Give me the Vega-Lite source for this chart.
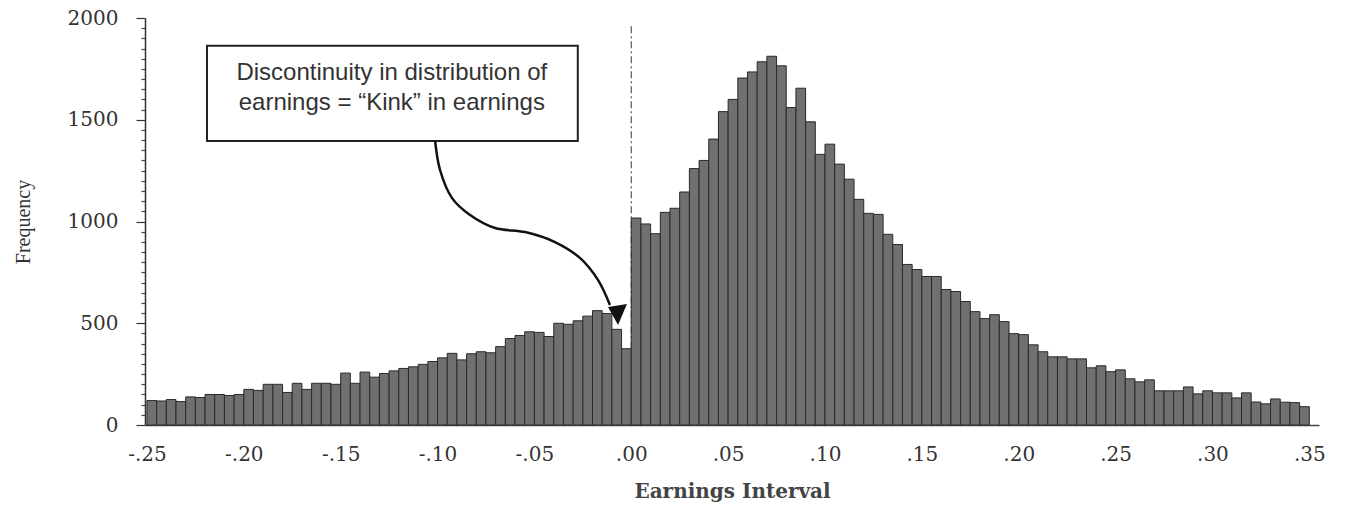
{
  "$schema": "https://vega.github.io/schema/vega-lite/v6.json",
  "width": 1174,
  "height": 407,
  "autosize": "none",
  "padding": {"left": 145, "top": 18, "right": 26, "bottom": 81},
  "background": "white",
  "config": {"view": {"stroke": null}},
  "resolve": {"axis": {"y": "independent"}},
  "datasets": {
    "hist": [
      {"a":-0.25,"b":-0.245,"n":120},{"a":-0.245,"b":-0.24,"n":118},{"a":-0.24,"b":-0.235,"n":125},{"a":-0.235,"b":-0.23,"n":115},
      {"a":-0.23,"b":-0.225,"n":138},{"a":-0.225,"b":-0.22,"n":135},{"a":-0.22,"b":-0.215,"n":150},{"a":-0.215,"b":-0.21,"n":150},
      {"a":-0.21,"b":-0.205,"n":145},{"a":-0.205,"b":-0.2,"n":150},{"a":-0.2,"b":-0.195,"n":175},{"a":-0.195,"b":-0.19,"n":170},
      {"a":-0.19,"b":-0.185,"n":200},{"a":-0.185,"b":-0.18,"n":200},{"a":-0.18,"b":-0.175,"n":160},{"a":-0.175,"b":-0.17,"n":205},
      {"a":-0.17,"b":-0.165,"n":175},{"a":-0.165,"b":-0.16,"n":205},{"a":-0.16,"b":-0.155,"n":205},{"a":-0.155,"b":-0.15,"n":200},
      {"a":-0.15,"b":-0.145,"n":255},{"a":-0.145,"b":-0.14,"n":205},{"a":-0.14,"b":-0.135,"n":260},{"a":-0.135,"b":-0.13,"n":235},
      {"a":-0.13,"b":-0.125,"n":253},{"a":-0.125,"b":-0.12,"n":266},{"a":-0.12,"b":-0.115,"n":278},{"a":-0.115,"b":-0.11,"n":286},
      {"a":-0.11,"b":-0.105,"n":298},{"a":-0.105,"b":-0.1,"n":312},{"a":-0.1,"b":-0.095,"n":330},{"a":-0.095,"b":-0.09,"n":352},
      {"a":-0.09,"b":-0.085,"n":320},{"a":-0.085,"b":-0.08,"n":350},{"a":-0.08,"b":-0.075,"n":360},{"a":-0.075,"b":-0.07,"n":355},
      {"a":-0.07,"b":-0.065,"n":385},{"a":-0.065,"b":-0.06,"n":425},{"a":-0.06,"b":-0.055,"n":440},{"a":-0.055,"b":-0.05,"n":458},
      {"a":-0.05,"b":-0.045,"n":455},{"a":-0.045,"b":-0.04,"n":435},{"a":-0.04,"b":-0.035,"n":500},{"a":-0.035,"b":-0.03,"n":495},
      {"a":-0.03,"b":-0.025,"n":512},{"a":-0.025,"b":-0.02,"n":535},{"a":-0.02,"b":-0.015,"n":562},{"a":-0.015,"b":-0.01,"n":548},
      {"a":-0.01,"b":-0.005,"n":470},{"a":-0.005,"b":0,"n":375},{"a":0,"b":0.005,"n":1017},{"a":0.005,"b":0.01,"n":988},
      {"a":0.01,"b":0.015,"n":940},{"a":0.015,"b":0.02,"n":1045},{"a":0.02,"b":0.025,"n":1065},{"a":0.025,"b":0.03,"n":1145},
      {"a":0.03,"b":0.035,"n":1260},{"a":0.035,"b":0.04,"n":1300},{"a":0.04,"b":0.045,"n":1405},{"a":0.045,"b":0.05,"n":1540},
      {"a":0.05,"b":0.055,"n":1600},{"a":0.055,"b":0.06,"n":1705},{"a":0.06,"b":0.065,"n":1735},{"a":0.065,"b":0.07,"n":1785},
      {"a":0.07,"b":0.075,"n":1812},{"a":0.075,"b":0.08,"n":1765},{"a":0.08,"b":0.085,"n":1560},{"a":0.085,"b":0.09,"n":1655},
      {"a":0.09,"b":0.095,"n":1490},{"a":0.095,"b":0.1,"n":1330},{"a":0.1,"b":0.105,"n":1380},{"a":0.105,"b":0.11,"n":1282},
      {"a":0.11,"b":0.115,"n":1208},{"a":0.115,"b":0.12,"n":1109},{"a":0.12,"b":0.125,"n":1040},{"a":0.125,"b":0.13,"n":1035},
      {"a":0.13,"b":0.135,"n":937},{"a":0.135,"b":0.14,"n":887},{"a":0.14,"b":0.145,"n":789},{"a":0.145,"b":0.15,"n":764},
      {"a":0.15,"b":0.155,"n":730},{"a":0.155,"b":0.16,"n":730},{"a":0.16,"b":0.165,"n":666},{"a":0.165,"b":0.17,"n":656},
      {"a":0.17,"b":0.175,"n":607},{"a":0.175,"b":0.18,"n":557},{"a":0.18,"b":0.185,"n":523},{"a":0.185,"b":0.19,"n":542},
      {"a":0.19,"b":0.195,"n":508},{"a":0.195,"b":0.2,"n":449},{"a":0.2,"b":0.205,"n":444},{"a":0.205,"b":0.21,"n":394},
      {"a":0.21,"b":0.215,"n":360},{"a":0.215,"b":0.22,"n":335},{"a":0.22,"b":0.225,"n":335},{"a":0.225,"b":0.23,"n":325},
      {"a":0.23,"b":0.235,"n":325},{"a":0.235,"b":0.24,"n":281},{"a":0.24,"b":0.245,"n":291},{"a":0.245,"b":0.25,"n":262},
      {"a":0.25,"b":0.255,"n":271},{"a":0.255,"b":0.26,"n":227},{"a":0.26,"b":0.265,"n":212},{"a":0.265,"b":0.27,"n":222},
      {"a":0.27,"b":0.275,"n":168},{"a":0.275,"b":0.28,"n":168},{"a":0.28,"b":0.285,"n":168},{"a":0.285,"b":0.29,"n":187},
      {"a":0.29,"b":0.295,"n":153},{"a":0.295,"b":0.3,"n":168},{"a":0.3,"b":0.305,"n":158},{"a":0.305,"b":0.31,"n":158},
      {"a":0.31,"b":0.315,"n":133},{"a":0.315,"b":0.32,"n":158},{"a":0.32,"b":0.325,"n":113},{"a":0.325,"b":0.33,"n":104},
      {"a":0.33,"b":0.335,"n":128},{"a":0.335,"b":0.34,"n":112},{"a":0.34,"b":0.345,"n":110},{"a":0.345,"b":0.35,"n":90}
    ],
    "arrow": [
      {"x":-0.1013,"y":1400,"o":1},{"x":-0.0987,"y":1253,"o":2},{"x":-0.0925,"y":1115,"o":3},{"x":-0.0832,"y":1032,"o":4},
      {"x":-0.0703,"y":968,"o":5},{"x":-0.0548,"y":948,"o":6},{"x":-0.0394,"y":899,"o":7},{"x":-0.0265,"y":821,"o":8},
      {"x":-0.0172,"y":713,"o":9},{"x":-0.011,"y":590,"o":10}
    ]
  },
  "layer": [
    {
      "data": {"values": [{"x": 0, "y": 1960, "y2": 0}]},
      "mark": {"type": "rule", "color": "#555555", "strokeWidth": 1.2, "strokeDash": [7, 3, 2, 3]},
      "encoding": {
        "x": {"field": "x", "type": "quantitative", "scale": {"domain": [-0.251, 0.355], "nice": false}},
        "y": {"field": "y", "type": "quantitative", "scale": {"domain": [0, 2000], "nice": false},
          "axis": {
            "orient": "left", "title": null, "labels": false, "domain": false, "grid": false,
            "values": [50,100,150,200,250,300,350,400,450,550,600,650,700,750,800,850,900,950,1050,1100,1150,1200,1250,1300,1350,1400,1450,1550,1600,1650,1700,1750,1800,1850,1900,1950],
            "tickSize": 4, "tickColor": "#444444", "tickWidth": 1.2
          }},
        "y2": {"field": "y2"}
      }
    },
    {
      "data": {"name": "hist"},
      "mark": {"type": "rect", "fill": "#707070", "stroke": "#2a2a2a", "strokeWidth": 1},
      "encoding": {
        "x": {"field": "a", "type": "quantitative", "scale": {"domain": [-0.251, 0.355], "nice": false},
          "axis": {
            "title": "Earnings Interval",
            "values": [-0.25, -0.2, -0.15, -0.1, -0.05, 0, 0.05, 0.1, 0.15, 0.2, 0.25, 0.3, 0.35],
            "labelExpr": "replace(replace(format(datum.value, '.2f'), '0.', '.'), '\u2212', '-')",
            "labelFont": "DejaVu Serif", "labelFontSize": 20, "labelColor": "#333333",
            "labelPadding": 19, "ticks": false, "domain": true, "domainColor": "#444444", "domainWidth": 1.5,
            "grid": false, "labelFlush": false, "labelOverlap": false,
            "titleFont": "DejaVu Serif", "titleFontSize": 20, "titleFontWeight": "bold", "titleColor": "#444444", "titlePadding": 17
          }},
        "x2": {"field": "b"},
        "y": {"field": "n", "type": "quantitative", "scale": {"domain": [0, 2000], "nice": false},
          "axis": {
            "orient": "left",
            "title": "Frequency",
            "values": [0, 500, 1000, 1500, 2000],
            "format": "d",
            "tickSize": 9, "tickColor": "#333333", "tickWidth": 1.2,
            "labelFont": "DejaVu Serif", "labelFontSize": 20, "labelColor": "#333333", "labelPadding": 18,
            "labelOverlap": false, "grid": false, "domainColor": "#333333", "domainWidth": 1.5,
            "titleFont": "Liberation Serif", "titleFontSize": 20, "titleFontWeight": "normal", "titleColor": "#333333", "titlePadding": 34
          }},
        "y2": {"datum": 0}
      }
    },
    {
      "data": {"values": [{"x1": -0.219, "x2": -0.0276, "y1": 1864, "y2": 1395}]},
      "mark": {"type": "rect", "fill": "white", "stroke": "#222222", "strokeWidth": 2},
      "encoding": {
        "x": {"field": "x1", "type": "quantitative"},
        "x2": {"field": "x2"},
        "y": {"field": "y1", "type": "quantitative", "axis": null},
        "y2": {"field": "y2"}
      }
    },
    {
      "data": {"values": [{"x": -0.1236, "y": 1730, "t": "Discontinuity in distribution of"}, {"x": -0.1236, "y": 1582, "t": "earnings = “Kink” in earnings"}]},
      "mark": {"type": "text", "font": "Liberation Sans", "fontSize": 24, "color": "#333333", "align": "center", "baseline": "middle"},
      "encoding": {
        "x": {"field": "x", "type": "quantitative"},
        "y": {"field": "y", "type": "quantitative", "axis": null},
        "text": {"field": "t"}
      }
    },
    {
      "data": {"name": "arrow"},
      "mark": {"type": "line", "color": "#111111", "strokeWidth": 2.5, "interpolate": "catmull-rom"},
      "encoding": {
        "x": {"field": "x", "type": "quantitative"},
        "y": {"field": "y", "type": "quantitative", "axis": null},
        "order": {"field": "o"}
      }
    },
    {
      "data": {"values": [{"x": -0.0071, "y": 545}]},
      "mark": {"type": "point", "shape": "M0.05,1 L-0.86,-0.64 L0.86,-0.91 Z", "filled": true, "color": "#111111", "size": 484, "opacity": 1},
      "encoding": {
        "x": {"field": "x", "type": "quantitative"},
        "y": {"field": "y", "type": "quantitative", "axis": null}
      }
    }
  ]
}
